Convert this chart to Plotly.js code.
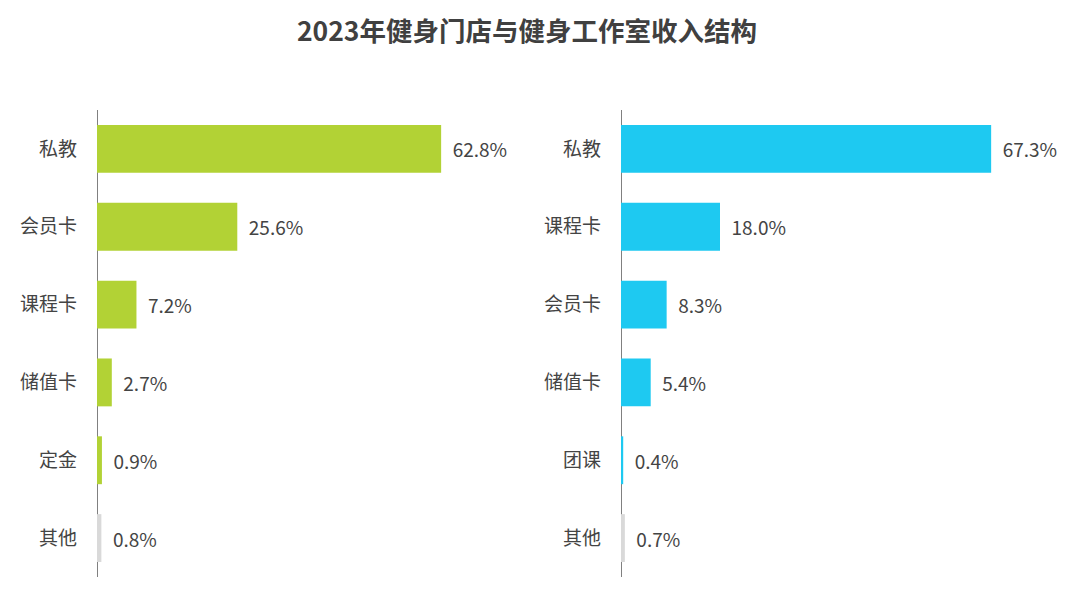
<!DOCTYPE html>
<html>
<head>
<meta charset="utf-8">
<script src="https://cdn.plot.ly/plotly-3.0.1.min.js"></script>
<style>html,body{margin:0;padding:0;background:#fff;}#chart{width:1080px;height:614px;}</style>
</head>
<body>
<div id="chart"></div>
<script>
const leftCategories = ["私教", "会员卡", "课程卡", "储值卡", "定金", "其他"];
const leftValues = [62.8, 25.6, 7.2, 2.7, 0.9, 0.8];
const rightCategories = ["私教", "课程卡", "会员卡", "储值卡", "团课", "其他"];
const rightValues = [67.3, 18.0, 8.3, 5.4, 0.4, 0.7];

const green = "#B2D235";
const cyan = "#1EC9F1";
const gray = "#D9D9D9";
const FONT = "'Microsoft YaHei', 'Noto Sans CJK SC', sans-serif";

function colors(cats, c) { return cats.map(k => k === "其他" ? gray : c); }

const traces = [
  {
    type: "bar", orientation: "h",
    y: leftCategories, x: leftValues,
    marker: {color: colors(leftCategories, green)},
    text: leftValues.map(v => "  " + v.toFixed(1) + "%"),
    textposition: "outside", cliponaxis: false,
    textfont: {family: FONT, size: 19, color: "#444444"},
    xaxis: "x", yaxis: "y", hoverinfo: "none"
  },
  {
    type: "bar", orientation: "h",
    y: rightCategories, x: rightValues,
    marker: {color: colors(rightCategories, cyan)},
    text: rightValues.map(v => "  " + v.toFixed(1) + "%"),
    textposition: "outside", cliponaxis: false,
    textfont: {family: FONT, size: 19, color: "#444444"},
    xaxis: "x2", yaxis: "y2", hoverinfo: "none"
  }
];

const yCommon = {
  autorange: "reversed", showgrid: false, zeroline: false,
  showline: false, ticks: "", ticklabelstandoff: 19,
  tickfont: {family: FONT, size: 19, color: "#444444"}
};
const xCommon = {
  showgrid: false, zeroline: true, zerolinecolor: "#808080", zerolinewidth: 1,
  showline: false, showticklabels: false, ticks: "", fixedrange: true
};

const layout = {
  width: 1080, height: 614,
  margin: {l: 0, r: 0, t: 110, b: 37},
  paper_bgcolor: "#fff", plot_bgcolor: "#fff",
  showlegend: false, bargap: 0.385,
  title: {text: "<b>2023年健身门店与健身工作室收入结构</b>", x: 527/1080, xanchor: "center", y: 0.948, yanchor: "middle",
          font: {family: FONT, size: 26.5, color: "#404040"}},
  xaxis: Object.assign({}, xCommon, {domain: [97/1080, 567/1080], range: [0, 470/5.48]}),
  yaxis: Object.assign({}, yCommon, {anchor: "x"}),
  xaxis2: Object.assign({}, xCommon, {domain: [621/1080, 1061/1080], range: [0, 440/5.5]}),
  yaxis2: Object.assign({}, yCommon, {anchor: "x2"})
};

Plotly.newPlot("chart", traces, layout, {displayModeBar: false, staticPlot: true});
</script>
</body>
</html>
